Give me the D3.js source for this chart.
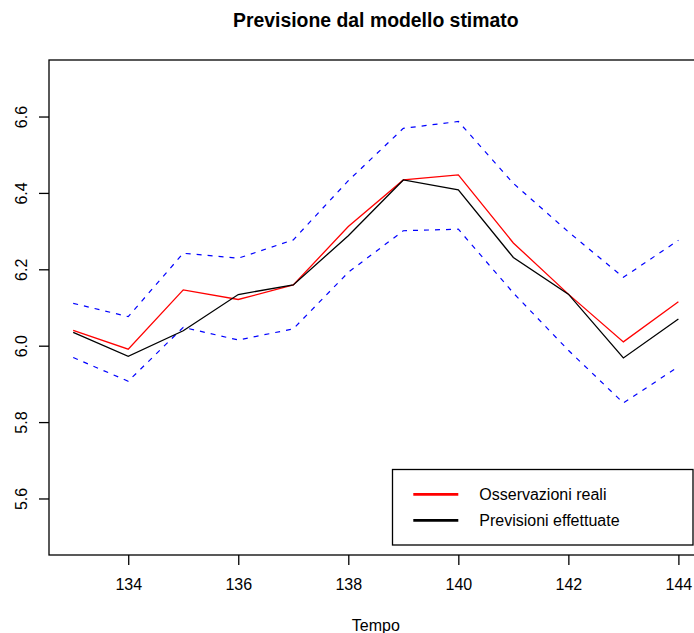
<!DOCTYPE html>
<html>
<head>
<meta charset="utf-8">
<script src="https://cdn.jsdelivr.net/npm/d3@7"></script>
<style>
  html, body { margin: 0; padding: 0; background: #fff; overflow: hidden; }
  svg { display: block; font-family: "Liberation Sans", Arial, Helvetica, sans-serif; }
</style>
</head>
<body>
<svg id="chart" width="694" height="633"></svg>
<script>
// Time index of the forecast horizon
const tempo = [133, 134, 135, 136, 137, 138, 139, 140, 141, 142, 143, 144];
// Observed values (log scale)
const osservazioni = [6.040, 5.991, 6.146, 6.121, 6.159, 6.312, 6.434, 6.447, 6.269, 6.135, 6.010, 6.115];
// Model forecasts
const previsioni = [6.035, 5.972, 6.039, 6.134, 6.159, 6.288, 6.434, 6.408, 6.231, 6.135, 5.968, 6.070];
// Upper and lower interval bounds
const limiteSup = [6.111, 6.076, 6.242, 6.229, 6.277, 6.432, 6.569, 6.587, 6.425, 6.298, 6.179, 6.276];
const limiteInf = [5.969, 5.907, 6.048, 6.015, 6.044, 6.192, 6.301, 6.305, 6.138, 5.988, 5.850, 5.945];

const xTicks = [134, 136, 138, 140, 142, 144];
const yTicks = [5.6, 5.8, 6.0, 6.2, 6.4, 6.6];
const legendLabels = ["Osservazioni reali", "Previsioni effettuate"];
const legendColors = ["#ff0000", "#000000"];

const svg = d3.select("#chart");

// Plot region (R-style, axis limits padded by 4%)
const plotLeft = 49, plotRight = 702.6, plotTop = 60, plotBottom = 555;
const xlim = [133, 144], ylim = [5.5, 6.7];
const padX = (xlim[1] - xlim[0]) * 0.04, padY = (ylim[1] - ylim[0]) * 0.04;
const x = d3.scaleLinear().domain([xlim[0] - padX, xlim[1] + padX]).range([plotLeft, plotRight]);
const y = d3.scaleLinear().domain([ylim[0] - padY, ylim[1] + padY]).range([plotBottom, plotTop]);

const line = vals => d3.line()
  .x((d, i) => x(tempo[i]))
  .y(d => y(d))(vals);

// Interval bounds: blue dashed
[limiteSup, limiteInf].forEach(vals => {
  svg.append("path")
    .attr("d", line(vals))
    .attr("fill", "none")
    .attr("stroke", "#0000ff")
    .attr("stroke-width", 1.2)
    .attr("stroke-dasharray", "5,6");
});

// Observed (red) and forecast (black)
svg.append("path")
  .attr("d", line(osservazioni))
  .attr("fill", "none")
  .attr("stroke", "#ff0000")
  .attr("stroke-width", 1.3);
svg.append("path")
  .attr("d", line(previsioni))
  .attr("fill", "none")
  .attr("stroke", "#000000")
  .attr("stroke-width", 1.3);

// Box around the plot region
svg.append("rect")
  .attr("x", plotLeft).attr("y", plotTop)
  .attr("width", plotRight - plotLeft).attr("height", plotBottom - plotTop)
  .attr("fill", "none").attr("stroke", "#000").attr("stroke-width", 1.3);

// Bottom axis
const xAxis = d3.axisBottom(x).tickValues(xTicks).tickSize(10).tickPadding(12).tickFormat(d3.format("d"));
const gx = svg.append("g").attr("transform", `translate(0,${plotBottom})`).call(xAxis);
gx.select(".domain").remove();
gx.selectAll(".tick line").attr("stroke", "#000").attr("stroke-width", 1.3);
gx.selectAll(".tick text").attr("font-size", 16).attr("fill", "#000")
  .attr("dy", null).attr("y", 35).attr("font-family", "Liberation Sans, Arial, sans-serif");

// Left axis, labels parallel to the axis
const yAxis = d3.axisLeft(y).tickValues(yTicks).tickSize(10).tickFormat(d3.format(".1f"));
const gy = svg.append("g").attr("transform", `translate(${plotLeft},0)`).call(yAxis);
gy.select(".domain").remove();
gy.selectAll(".tick line").attr("stroke", "#000").attr("stroke-width", 1.3);
gy.selectAll(".tick text")
  .attr("font-size", 16).attr("fill", "#000")
  .attr("font-family", "Liberation Sans, Arial, sans-serif")
  .attr("x", null).attr("dy", null)
  .attr("text-anchor", "middle")
  .attr("transform", `translate(${27 - plotLeft},0) rotate(-90)`);

// Title and axis label
svg.append("text")
  .attr("x", (plotLeft + plotRight) / 2).attr("y", 26.7)
  .attr("text-anchor", "middle")
  .attr("font-size", 19.4).attr("font-weight", "bold")
  .text("Previsione dal modello stimato");
svg.append("text")
  .attr("x", (plotLeft + plotRight) / 2).attr("y", 630.7)
  .attr("text-anchor", "middle")
  .attr("font-size", 16)
  .text("Tempo");

// Legend (bottom right)
const lg = svg.append("g");
lg.append("rect")
  .attr("x", 392.5).attr("y", 469.5).attr("width", 300.5).attr("height", 75.5)
  .attr("fill", "#fff").attr("stroke", "#000").attr("stroke-width", 1.3);
legendLabels.forEach((lab, i) => {
  const ly = 494.3 + i * 26;
  lg.append("line")
    .attr("x1", 413.3).attr("x2", 458.3).attr("y1", ly).attr("y2", ly)
    .attr("stroke", legendColors[i]).attr("stroke-width", 2.7);
  lg.append("text")
    .attr("x", 479.3).attr("y", ly + 5.8)
    .attr("font-size", 16)
    .text(lab);
});
</script>
</body>
</html>
